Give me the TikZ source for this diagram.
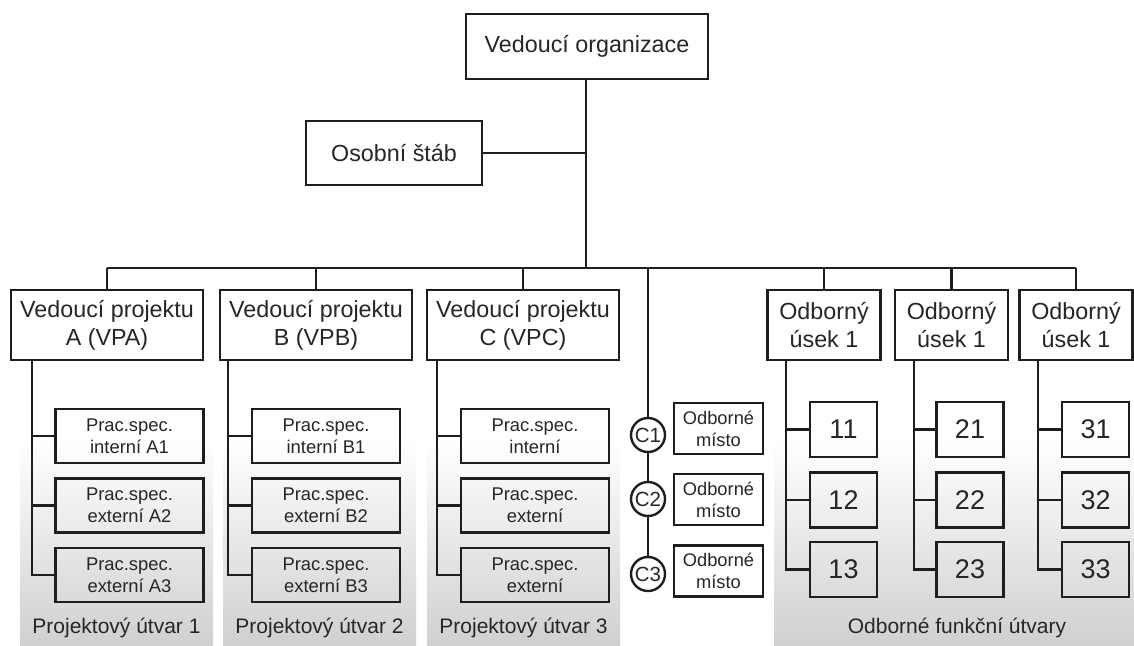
\documentclass[tikz,border=0pt]{standalone}
\usepackage{fontspec}
\setmainfont{Liberation Sans}
\definecolor{linec}{HTML}{1E1E1E}
\definecolor{txt}{HTML}{262626}
\definecolor{panelg}{HTML}{D0D0D0}
\begin{document}
\begin{tikzpicture}[x=1pt,y=-1pt,
  conn/.style={draw=linec, line width=2.4pt},
  box/.style={draw=linec, line width=2.4pt, inner sep=0pt, align=center, text=txt},
  bigbox/.style={box, font=\fontsize{23.3}{28}\selectfont},
  headbox/.style={bigbox, minimum width=192pt, minimum height=70pt},
  usekbox/.style={bigbox, minimum width=113pt, minimum height=70pt},
  specbox/.style={box, font=\fontsize{18.4}{22}\selectfont, minimum width=148pt, minimum height=54pt},
  numbox/.style={box, font=\fontsize{27}{30}\selectfont, minimum width=67pt, minimum height=55pt},
  mistobox/.style={box, font=\fontsize{18.3}{22}\selectfont, minimum width=89pt, minimum height=51pt},
  cnode/.style={circle, draw=linec, line width=2.4pt, inner sep=0pt, minimum size=34pt, text=txt, font=\fontsize{20.5}{22}\selectfont},
  panellabel/.style={text=txt, font=\fontsize{21}{24}\selectfont, inner sep=0pt},
  panel/.style={top color=white, bottom color=panelg, draw=none}
]
\useasboundingbox (0,0) rectangle (1134,645);
\fill[white] (0,0) rectangle (1134,645);

% shaded group panels
\shade[panel] (20,440) rectangle (213,645);
\shade[panel] (223,440) rectangle (416,645);
\shade[panel] (427,440) rectangle (620,645);
\shade[panel] (774,440) rectangle (1134,645);

% top of the hierarchy
\node[bigbox, minimum width=242pt, minimum height=65pt] (top) at (587,46.5) {Vedoucí organizace};
\node[bigbox, minimum width=176pt, minimum height=64pt] (staff) at (394,153) {Osobní štáb};
\coordinate (bus) at (586,268);
\coordinate (trunk) at (586,153);
\draw[conn] (top.south -| bus) -- (bus);
\draw[conn] (staff.east) -- (trunk);

% project and department heads
\node[headbox] (A) at (107,325) {Vedoucí projektu\\A (VPA)};
\node[headbox] (B) at (316,325) {Vedoucí projektu\\B (VPB)};
\node[headbox] (C) at (523,325) {Vedoucí projektu\\C (VPC)};
\node[usekbox] (O1) at (824,325) {Odborný\\úsek 1};
\node[usekbox] (O2) at (951.5,325) {Odborný\\úsek 1};
\node[usekbox] (O3) at (1076,325) {Odborný\\úsek 1};

% C chain circles and specialist places
\node[cnode] (C1) at (648,435) {C1};
\node[cnode] (C2) at (648,499) {C2};
\node[cnode] (C3) at (648,574) {C3};
\node[mistobox] (M1) at (718.5,428.5) {Odborné\\místo};
\node[mistobox] (M2) at (718.5,499.5) {Odborné\\místo};
\node[mistobox] (M3) at (718.5,571) {Odborné\\místo};

% horizontal bus and drops
\draw[conn] (A.north |- bus) -- (O3.north |- bus);
\foreach \n in {A,B,C,O1,O2,O3} \draw[conn] (\n.north |- bus) -- (\n.north);
\draw[conn] (C1.north |- bus) -- (C1.north);
\draw[conn] (C1.south) -- (C2.north);
\draw[conn] (C2.south) -- (C3.north);

% project specialists
\node[specbox] (A1) at (129.5,436) {Prac.spec.\\interní A1};
\node[specbox] (A2) at (129.5,505.5) {Prac.spec.\\externí A2};
\node[specbox] (A3) at (129.5,575) {Prac.spec.\\externí A3};
\node[specbox] (B1) at (326,436) {Prac.spec.\\interní B1};
\node[specbox] (B2) at (326,505.5) {Prac.spec.\\externí B2};
\node[specbox] (B3) at (326,575) {Prac.spec.\\externí B3};
\node[specbox] (P1) at (535,436) {Prac.spec.\\interní};
\node[specbox] (P2) at (535,505.5) {Prac.spec.\\externí};
\node[specbox] (P3) at (535,575) {Prac.spec.\\externí};

% department units
\node[numbox] (N11) at (843.5,429.5) {11};
\node[numbox] (N12) at (843.5,500) {12};
\node[numbox] (N13) at (843.5,569.5) {13};
\node[numbox] (N21) at (970,429.5) {21};
\node[numbox] (N22) at (970,500) {22};
\node[numbox] (N23) at (970,569.5) {23};
\node[numbox] (N31) at (1095.5,429.5) {31};
\node[numbox] (N32) at (1095.5,500) {32};
\node[numbox] (N33) at (1095.5,569.5) {33};

% spines: parent -> side line -> children
\draw[conn] (A.south -| 32,0) |- (A3.west);
\draw[conn] (A1.west) -- (A1.west -| 32,0);
\draw[conn] (A2.west) -- (A2.west -| 32,0);
\draw[conn] (B.south -| 228,0) |- (B3.west);
\draw[conn] (B1.west) -- (B1.west -| 228,0);
\draw[conn] (B2.west) -- (B2.west -| 228,0);
\draw[conn] (C.south -| 437,0) |- (P3.west);
\draw[conn] (P1.west) -- (P1.west -| 437,0);
\draw[conn] (P2.west) -- (P2.west -| 437,0);
\draw[conn] (O1.south -| 786,0) |- (N13.west);
\draw[conn] (N11.west) -- (N11.west -| 786,0);
\draw[conn] (N12.west) -- (N12.west -| 786,0);
\draw[conn] (O2.south -| 914,0) |- (N23.west);
\draw[conn] (N21.west) -- (N21.west -| 914,0);
\draw[conn] (N22.west) -- (N22.west -| 914,0);
\draw[conn] (O3.south -| 1038,0) |- (N33.west);
\draw[conn] (N31.west) -- (N31.west -| 1038,0);
\draw[conn] (N32.west) -- (N32.west -| 1038,0);

% panel captions
\node[panellabel] (L1) at (116.5,628) {Projektový útvar 1};
\node[panellabel] (L2) at (319.5,628) {Projektový útvar 2};
\node[panellabel] (L3) at (523.5,628) {Projektový útvar 3};
\node[panellabel] (L4) at (957,628) {Odborné funkční útvary};
\end{tikzpicture}
\end{document}
